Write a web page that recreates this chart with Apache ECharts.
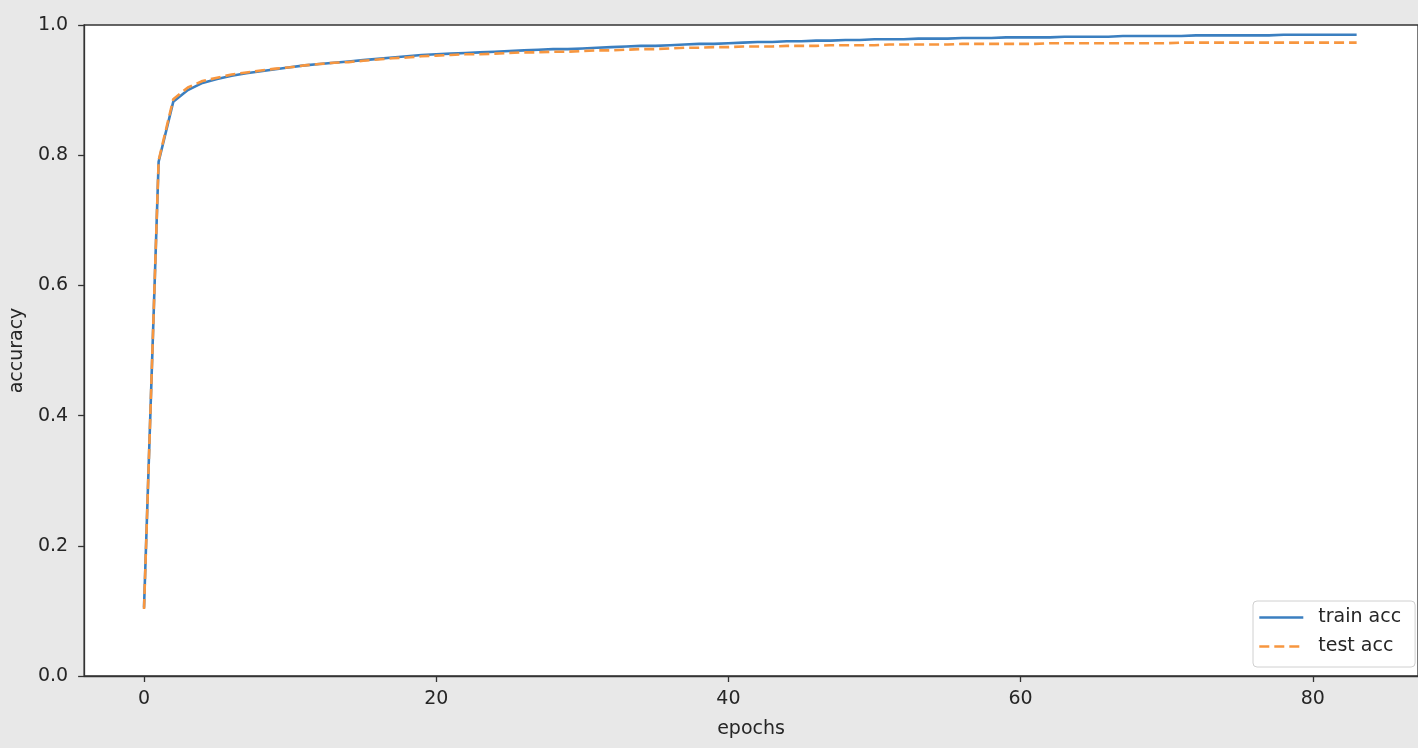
<!DOCTYPE html>
<html>
<head>
<meta charset="utf-8">
<script src="https://cdn.jsdelivr.net/npm/echarts@6/dist/echarts.min.js"></script>
<style>
html,body{margin:0;padding:0;background:#e8e8e8;}
#chart{width:1418px;height:748px;}
</style>
</head>
<body>
<div id="chart"></div>
<script>
const xTickValues = [0, 20, 40, 60, 80];
const yTickValues = [0, 0.2, 0.4, 0.6, 0.8, 1.0];
const seriesNames = ['train acc', 'test acc'];
const trainAcc = [
0.105,0.790,0.882,0.900,0.911,0.917,0.922,0.926,0.929,0.932,
0.935,0.938,0.940,0.942,0.944,0.946,0.948,0.950,0.952,0.954,
0.955,0.956,0.957,0.958,0.959,0.960,0.961,0.962,0.963,0.963,
0.964,0.965,0.966,0.967,0.968,0.968,0.969,0.970,0.971,0.971,
0.972,0.973,0.974,0.974,0.975,0.975,0.976,0.976,0.977,0.977,
0.978,0.978,0.978,0.979,0.979,0.979,0.980,0.980,0.980,0.981,
0.981,0.981,0.981,0.982,0.982,0.982,0.982,0.983,0.983,0.983,
0.983,0.983,0.984,0.984,0.984,0.984,0.984,0.984,0.985,0.985,
0.985,0.985,0.985,0.985
];
const testAcc = [
0.103,0.792,0.886,0.904,0.914,0.919,0.924,0.927,0.930,0.933,
0.935,0.938,0.940,0.942,0.943,0.945,0.947,0.949,0.950,0.952,
0.953,0.954,0.955,0.955,0.956,0.957,0.958,0.958,0.959,0.959,
0.960,0.961,0.961,0.962,0.963,0.963,0.964,0.965,0.965,0.966,
0.966,0.967,0.967,0.967,0.968,0.968,0.968,0.969,0.969,0.969,
0.969,0.970,0.970,0.970,0.970,0.970,0.971,0.971,0.971,0.971,
0.971,0.971,0.972,0.972,0.972,0.972,0.972,0.972,0.972,0.972,
0.972,0.973,0.973,0.973,0.973,0.973,0.973,0.973,0.973,0.973,
0.973,0.973,0.973,0.973
];

const FONT = 'DejaVu Sans';
const TXT = '#262626';
const toPairs = arr => arr.map((v, i) => [i, v]);

const chart = echarts.init(document.getElementById('chart'), null, {renderer: 'canvas'});
chart.setOption({
  backgroundColor: '#e8e8e8',
  animation: false,
  textStyle: {fontFamily: FONT},
  grid: {
    left: 83, top: 25, width: 1341, height: 651,
    show: true, backgroundColor: '#ffffff', borderColor: '#333333', borderWidth: 1.3
  },
  xAxis: {
    type: 'value', min: -4.1, max: 87.2,
    name: 'epochs', nameLocation: 'middle', nameGap: 44,
    nameTextStyle: {fontFamily: FONT, fontSize: 19, color: TXT},
    splitLine: {show: false},
    axisLine: {show: true, onZero: false, lineStyle: {color: '#333', width: 1.3}},
    axisTick: {show: true, length: 6, customValues: xTickValues, lineStyle: {color: '#333', width: 1.3}},
    axisLabel: {customValues: xTickValues, margin: 14, fontFamily: FONT, fontSize: 19, color: TXT}
  },
  yAxis: {
    type: 'value', min: 0, max: 1, interval: 0.2,
    name: 'accuracy', nameLocation: 'middle', nameGap: 54,
    nameTextStyle: {fontFamily: FONT, fontSize: 19, color: TXT},
    splitLine: {show: false},
    axisLine: {show: true, onZero: false, lineStyle: {color: '#333', width: 1.3}},
    axisTick: {show: true, length: 6, customValues: yTickValues, lineStyle: {color: '#333', width: 1.3}},
    axisLabel: {customValues: yTickValues, margin: 16, fontFamily: FONT, fontSize: 19, color: TXT,
      formatter: v => v.toFixed(1)}
  },
  legend: {
    orient: 'vertical', left: 1253, top: 601,
    padding: [7, 14, 11, 5],
    itemWidth: 44, itemHeight: 19, itemGap: 10,
    itemStyle: {opacity: 0},
    lineStyle: {width: 2.6},
    backgroundColor: '#ffffff', borderColor: '#d0d0d0', borderWidth: 1, borderRadius: 4,
    textStyle: {fontFamily: FONT, fontSize: 19, color: TXT, padding: [0, 0, 0, 10]},
    data: seriesNames
  },
  series: [
    {
      name: seriesNames[0], type: 'line', data: toPairs(trainAcc),
      symbol: 'none', showSymbol: false, smooth: false,
      lineStyle: {color: '#3b7fc0', width: 2.6},
      itemStyle: {color: '#3b7fc0'},
      z: 2
    },
    {
      name: seriesNames[1], type: 'line', data: toPairs(testAcc),
      symbol: 'none', showSymbol: false, smooth: false,
      lineStyle: {color: '#f7963f', width: 2.6, type: [10, 5]},
      itemStyle: {color: '#f7963f'},
      z: 3
    }
  ]
});
</script>
</body>
</html>
